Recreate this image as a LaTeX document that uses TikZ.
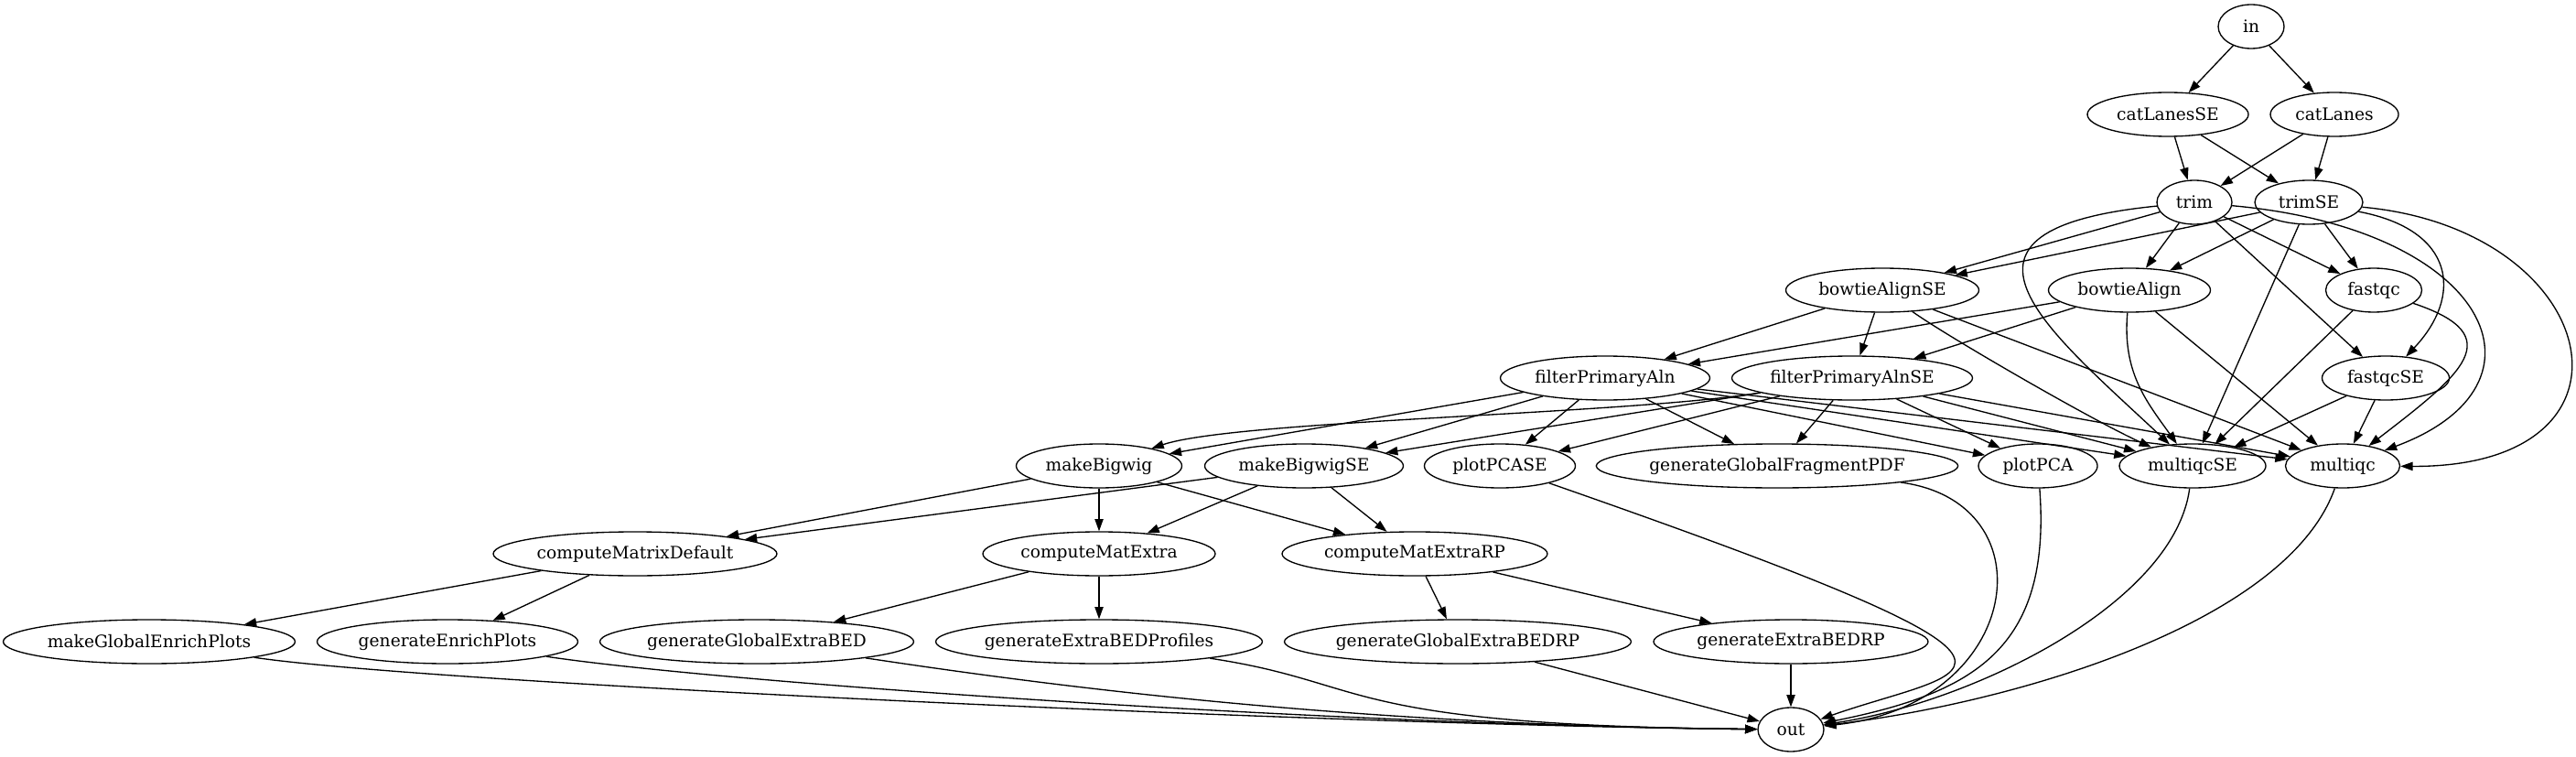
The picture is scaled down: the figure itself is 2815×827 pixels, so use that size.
\documentclass[tikz,border=0pt]{standalone}
\usepackage{fontspec}
\setmainfont{DejaVu Serif}
\usetikzlibrary{shapes.geometric, arrows.meta}

\begin{document}
\begin{tikzpicture}[x=0.75pt, y=0.75pt,
    job/.style={ellipse, draw, line width=1pt, inner sep=0pt, minimum height=36pt,
        minimum width=#1*0.75pt, font=\fontsize{14pt}{16pt}\selectfont},
    job/.default=72,
    dep/.style={-{Triangle[length=10pt,width=7pt]}, line width=1pt}]

    % Fix the page size
    \useasboundingbox (0,0) rectangle (2815,-827);

    % Draw the jobs, one row per rank
    \node[job] (in) at (2460,-29) {in};

    \node[job=176] (catLanesSE) at (2369,-125) {catLanesSE};
    \node[job=140] (catLanes) at (2551,-125) {catLanes};

    \node[job=82] (trim) at (2398,-221) {trim};
    \node[job=118] (trimSE) at (2523,-221) {trimSE};

    \node[job=211] (bowtieAlignSE) at (2057,-317) {bowtieAlignSE};
    \node[job=177] (bowtieAlign) at (2327,-317) {bowtieAlign};
    \node[job=105] (fastqc) at (2594,-317) {fastqc};

    \node[job=229] (filterPrimaryAln) at (1754,-413) {filterPrimaryAln};
    \node[job=263] (filterPrimaryAlnSE) at (2024,-413) {filterPrimaryAlnSE};
    \node[job=139] (fastqcSE) at (2607,-413) {fastqcSE};

    \node[job=181] (makeBigwig) at (1201,-509) {makeBigwig};
    \node[job=217] (makeBigwigSE) at (1425,-509) {makeBigwigSE};
    \node[job=165] (plotPCASE) at (1639,-509) {plotPCASE};
    \node[job=392] (generateGlobalFragmentPDF) at (1942,-509) {generateGlobalFragmentPDF};
    \node[job=130] (plotPCA) at (2227,-509) {plotPCA};
    \node[job=160] (multiqcSE) at (2396,-509) {multiqcSE};
    \node[job=125] (multiqc) at (2560,-509) {multiqc};

    \node[job=310] (computeMatrixDefault) at (694,-605) {computeMatrixDefault};
    \node[job=254] (computeMatExtra) at (1201,-605) {computeMatExtra};
    \node[job=290] (computeMatExtraRP) at (1546,-605) {computeMatExtraRP};

    \node[job=319] (makeGlobalEnrichPlots) at (163,-701) {makeGlobalEnrichPlots};
    \node[job=285] (generateEnrichPlots) at (489,-701) {generateEnrichPlots};
    \node[job=343] (generateGlobalExtraBED) at (827,-701) {generateGlobalExtraBED};
    \node[job=357] (generateExtraBEDProfiles) at (1201,-701) {generateExtraBEDProfiles};
    \node[job=379] (generateGlobalExtraBEDRP) at (1593,-701) {generateGlobalExtraBEDRP};
    \node[job=300] (generateExtraBEDRP) at (1957,-701) {generateExtraBEDRP};

    \node[job] (out) at (1957,-797) {out};

    % Input and lane merging
    \draw[dep] (in) -- (catLanesSE);
    \draw[dep] (in) -- (catLanes);
    \foreach \src in {catLanesSE,catLanes}
        \foreach \dst in {trim,trimSE}
            \draw[dep] (\src) -- (\dst);

    % Trimming
    \foreach \dst in {bowtieAlignSE,bowtieAlign,fastqc,fastqcSE}
        \draw[dep] (trim) -- (\dst);
    \draw[dep] (trim) .. controls +(-300,-30) and +(-160,150) .. (multiqcSE);
    \draw[dep] (trim) .. controls +(322,-29) and +(240,89) .. (multiqc);
    \foreach \dst in {bowtieAlignSE,bowtieAlign,fastqc,multiqcSE}
        \draw[dep] (trimSE) -- (\dst);
    \draw[dep] (trimSE) .. controls +(160,-30) and +(85,90) .. (fastqcSE);
    \draw[dep] (trimSE) .. controls +(322,-29) and +(345,-2) .. (multiqc);

    % Quality control
    \draw[dep] (fastqc) -- (multiqcSE);
    \draw[dep] (fastqc) .. controls +(150,-50) and +(130,100) .. (multiqc);
    \draw[dep] (fastqcSE) -- (multiqcSE);
    \draw[dep] (fastqcSE) -- (multiqc);

    % Alignment
    \foreach \src in {bowtieAlignSE,bowtieAlign}
        \foreach \dst in {filterPrimaryAln,filterPrimaryAlnSE,multiqc}
            \draw[dep] (\src) -- (\dst);
    \draw[dep] (bowtieAlignSE) .. controls +(70,-50) and +(-110,50) .. (multiqcSE);
    \draw[dep] (bowtieAlign) .. controls +(-8,-90) and +(-50,70) .. (multiqcSE);

    % Filtering
    \foreach \src in {filterPrimaryAln,filterPrimaryAlnSE}
        \foreach \dst in {makeBigwigSE,plotPCASE,generateGlobalFragmentPDF,plotPCA,multiqcSE,multiqc}
            \draw[dep] (\src) -- (\dst);
    \draw[dep] (filterPrimaryAln) -- (makeBigwig);
    \draw[dep] (filterPrimaryAlnSE) .. controls +(-250,-40) and +(150,50) .. (makeBigwig);

    % Coverage and matrices
    \foreach \src in {makeBigwig,makeBigwigSE}
        \foreach \dst in {computeMatrixDefault,computeMatExtra,computeMatExtraRP}
            \draw[dep] (\src) -- (\dst);
    \draw[dep] (computeMatrixDefault) -- (makeGlobalEnrichPlots);
    \draw[dep] (computeMatrixDefault) -- (generateEnrichPlots);
    \draw[dep] (computeMatExtra) -- (generateGlobalExtraBED);
    \draw[dep] (computeMatExtra) -- (generateExtraBEDProfiles);
    \draw[dep] (computeMatExtraRP) -- (generateGlobalExtraBEDRP);
    \draw[dep] (computeMatExtraRP) -- (generateExtraBEDRP);

    % Everything ends in out
    \foreach \src in {makeGlobalEnrichPlots,generateEnrichPlots,generateGlobalExtraBED,generateExtraBEDProfiles}
        \draw[dep] (\src) .. controls +(300,-45) and +(-500,5) .. (out);
    \draw[dep] (generateGlobalExtraBEDRP) -- (out);
    \draw[dep] (generateExtraBEDRP) -- (out);
    \draw[dep] (plotPCASE) .. controls +(660,-230) and +(200,70) .. (out);
    \draw[dep] (generateGlobalFragmentPDF) .. controls +(300,-40) and +(253,27) .. (out);
    \draw[dep] (plotPCA) .. controls +(15,-200) and +(200,40) .. (out);
    \draw[dep] (multiqcSE) .. controls +(-20,-150) and +(200,30) .. (out);
    \draw[dep] (multiqc) .. controls +(-60,-170) and +(250,30) .. (out);

\end{tikzpicture}
\end{document}
